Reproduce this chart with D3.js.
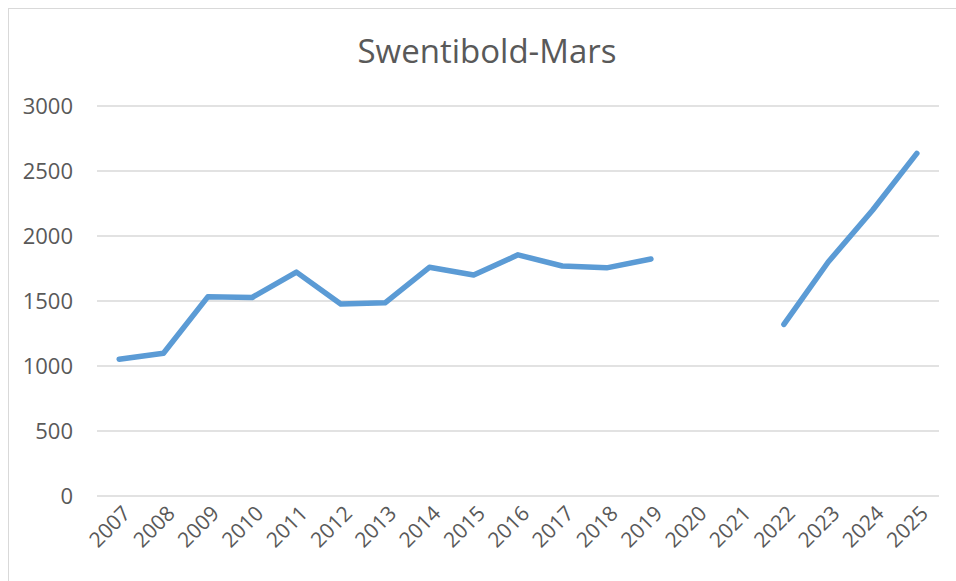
<!DOCTYPE html>
<head>
  <meta charset="utf-8">
  <script src="https://cdn.jsdelivr.net/npm/d3@7"></script>
  <style>
    body { margin:0; background:#fff; }
    text { font-family: "Open Sans", "Noto Sans", sans-serif; fill:#595959; }
  </style>
</head>
<body>
<script>
  const title = "Swentibold-Mars";
  const years = ["2007","2008","2009","2010","2011","2012","2013","2014","2015","2016",
                 "2017","2018","2019","2020","2021","2022","2023","2024","2025"];
  const values = [1052, 1098, 1532, 1527, 1722, 1477, 1486, 1759, 1700, 1855,
                  1769, 1755, 1823, null, null, 1320, 1800, 2198, 2636];
  const yTicks = [0, 500, 1000, 1500, 2000, 2500, 3000];

  const width = 956, height = 581;
  const plotLeft = 97, plotRight = 939, plotTop = 106, plotBottom = 496;

  const svg = d3.select("body").append("svg")
    .attr("width", width)
    .attr("height", height);

  // chart frame (runs off the right/bottom edge like the screenshot)
  svg.append("rect")
    .attr("x", 8.5).attr("y", 8.5)
    .attr("width", 1000).attr("height", 1000)
    .attr("fill", "#fff")
    .attr("stroke", "#d9d9d9");

  svg.append("text")
    .attr("x", 487).attr("y", 63)
    .attr("text-anchor", "middle")
    .style("font-size", "33px")
    .text(title);

  const x = d3.scalePoint().domain(years).range([plotLeft, plotRight]).padding(0.5);
  const y = d3.scaleLinear().domain([0, 3000]).range([plotBottom, plotTop]);

  // gridlines
  svg.append("g").selectAll("line")
    .data(yTicks).enter().append("line")
    .attr("x1", plotLeft).attr("x2", plotRight)
    .attr("y1", d => y(d)).attr("y2", d => y(d))
    .attr("stroke", "#d9d9d9").attr("stroke-width", 1.5);

  // y labels
  svg.append("g").selectAll("text")
    .data(yTicks).enter().append("text")
    .attr("x", 73).attr("y", d => y(d))
    .attr("dy", "0.35em")
    .attr("text-anchor", "end")
    .style("font-size", "22px")
    .text(d => d);

  // x labels, rotated
  svg.append("g").selectAll("text")
    .data(years).enter().append("text")
    .attr("transform", d => `translate(${x(d) + 2},${plotBottom + 8}) rotate(-45)`)
    .attr("text-anchor", "end")
    .attr("dy", "0.72em")
    .style("font-size", "21px")
    .text(d => d);

  const line = d3.line()
    .defined(d => d[1] != null)
    .x(d => x(d[0]))
    .y(d => y(d[1]));

  svg.append("path")
    .datum(years.map((yr, i) => [yr, values[i]]))
    .attr("d", line)
    .attr("fill", "none")
    .attr("stroke", "#5b9bd5")
    .attr("stroke-width", 5.5)
    .attr("stroke-linejoin", "round")
    .attr("stroke-linecap", "round");
</script>
</body>
